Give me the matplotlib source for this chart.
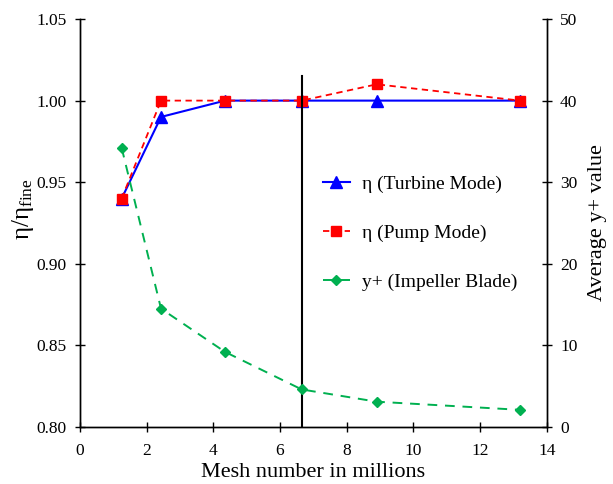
import matplotlib
matplotlib.use("Agg")
import matplotlib.pyplot as plt

plt.rcParams['font.family'] = ['Liberation Serif', 'DejaVu Serif']
plt.rcParams['mathtext.fontset'] = 'custom'
plt.rcParams['mathtext.rm'] = 'Liberation Serif'
plt.rcParams['mathtext.it'] = 'Liberation Serif:italic'

# Mesh sizes (millions of cells)
mesh = [1.25, 2.43, 4.35, 6.65, 8.9, 13.2]
# Normalised efficiency
eta_turbine = [0.94, 0.99, 1.00, 1.00, 1.00, 1.00]
eta_pump = [0.94, 1.00, 1.00, 1.00, 1.01, 1.00]
# Average y+ on the impeller blade
yplus = [34.2, 14.5, 9.2, 4.6, 3.1, 2.1]

selected_mesh = 6.65
selected_top = 1.015

fig = plt.figure(figsize=(6.13, 4.84), dpi=100)
ax = fig.add_axes([0.1305, 0.1178, 0.7615, 0.8429])
ax2 = ax.twinx()

l1, = ax.plot(mesh, eta_turbine, color='#0000FF', lw=1.5, marker='^', ms=8,
              label='η (Turbine Mode)')
l2, = ax.plot(mesh, eta_pump, color='#FF0000', lw=1.3, ls=(0, (3.5, 2.5)),
              marker='s', ms=7.5, label='η (Pump Mode)')
ax.plot([selected_mesh, selected_mesh], [0.80, selected_top], color='black', lw=1.5)
l3, = ax2.plot(mesh, yplus, color='#00B050', lw=1.4, ls=(0, (5, 4)),
               marker='D', ms=5, label='y+ (Impeller Blade)')

ax.set_xlim(0, 14)
ax.set_ylim(0.80, 1.05)
ax2.set_ylim(0, 50)
ax.set_xticks(range(0, 15, 2))
ax.set_yticks([0.80, 0.85, 0.90, 0.95, 1.00, 1.05])
ax.set_yticklabels(['0.80', '0.85', '0.90', '0.95', '1.00', '1.05'])
ax2.set_yticks(range(0, 51, 10))

for a in (ax, ax2):
    a.spines['top'].set_visible(False)
    for s in a.spines.values():
        s.set_linewidth(1.0)
    a.tick_params(direction='inout', length=7, width=1.0, labelsize=12.5)
ax.tick_params(axis='x', pad=8)
ax.tick_params(axis='y', pad=6)
ax2.tick_params(axis='y', pad=6)

ax.set_xlabel('Mesh number in millions', fontsize=16, labelpad=3)
ax.set_ylabel('η/η$_{\\mathrm{fine}}$', fontsize=18)
ax.yaxis.set_label_coords(-0.095, 0.535)
ax2.set_ylabel('Average y+ value', fontsize=16, labelpad=8)

ax2.legend(handles=[l1, l2, l3], loc='center left', bbox_to_anchor=(0.52, 0.475),
           frameon=False, fontsize=14, numpoints=1, handlelength=1.4,
           handletextpad=0.6, labelspacing=1.6, borderpad=0, borderaxespad=0)

fig.savefig('out.png', dpi=100)
